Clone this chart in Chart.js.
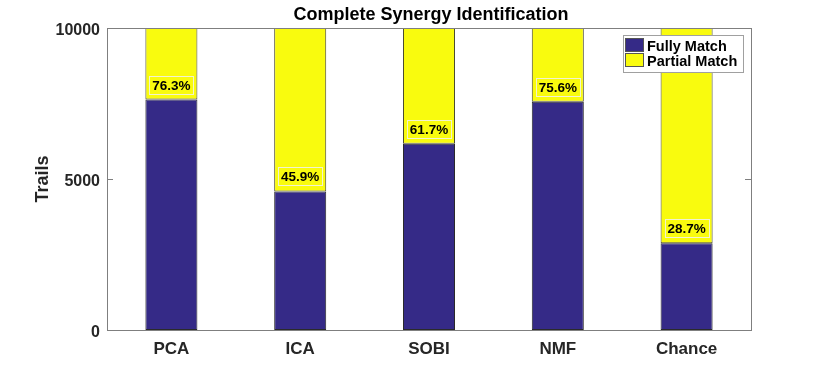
<!DOCTYPE html>
<html>
<head>
<meta charset="utf-8">
<script src="https://cdn.jsdelivr.net/npm/chart.js@4/dist/chart.umd.min.js"></script>
<style>
html,body{margin:0;padding:0;background:#fff;}
#wrap{width:830px;height:371px;position:relative;}
</style>
</head>
<body>
<div id="wrap"><canvas id="c" width="830" height="371"></canvas></div>
<script>
const categories = ["PCA", "ICA", "SOBI", "NMF", "Chance"];
const fullyMatch = [7630, 4590, 6170, 7560, 2870];
const partialMatch = [2370, 5410, 3830, 2440, 7130];
const percentLabels = ["76.3%", "45.9%", "61.7%", "75.6%", "28.7%"];
const yTicks = [0, 5000, 10000];
const seriesNames = ["Fully Match", "Partial Match"];
const chartTitle = "Complete Synergy Identification";
const yTitle = "Trails";

const BLUE = "#352a87";
const YELLOW = "#f9fb0e";
const TXT = "#262626";
const FONT = "'Liberation Sans', Arial, sans-serif";

const overlay = {
  id: "overlay",
  afterDraw(chart) {
    const ctx = chart.ctx;
    const a = chart.chartArea;
    const ys = chart.scales.y;
    ctx.save();
    // axes box
    ctx.strokeStyle = "#7f7f7f";
    ctx.lineWidth = 1;
    ctx.strokeRect(Math.round(a.left) + 0.5, Math.round(a.top) + 0.5, Math.round(a.right - a.left), Math.round(a.bottom - a.top));
    // inner tick marks
    yTicks.forEach(v => {
      const y = Math.round(ys.getPixelForValue(v)) + 0.5;
      ctx.beginPath();
      ctx.moveTo(a.left, y); ctx.lineTo(a.left + 6, y);
      ctx.moveTo(a.right, y); ctx.lineTo(a.right - 6, y);
      ctx.stroke();
    });
    // percentage labels
    const meta = chart.getDatasetMeta(0);
    ctx.font = "bold 13.5px " + FONT;
    ctx.textAlign = "center";
    ctx.textBaseline = "middle";
    meta.data.forEach((bar, i) => {
      const cx = bar.x;
      const top = bar.y;
      const w = 44, h = 18;
      const bx = Math.round(cx - w / 2) + 0.5;
      const by = Math.round(top - 6 - h) + 0.5;
      ctx.fillStyle = YELLOW;
      ctx.fillRect(bx, by, w, h);
      ctx.strokeStyle = "#f2f2d0";
      ctx.strokeRect(bx, by, w, h);
      ctx.fillStyle = "#000";
      ctx.fillText(percentLabels[i], cx, by + h / 2 + 1);
    });
    // legend
    const lx = 623.5, ly = 35.5, lw = 120, lh = 37;
    ctx.fillStyle = "#fff";
    ctx.fillRect(lx, ly, lw, lh);
    ctx.strokeStyle = "#a0a0a0";
    ctx.strokeRect(lx, ly, lw, lh);
    const cols = [BLUE, YELLOW];
    ctx.textAlign = "left";
    ctx.font = "bold 14.5px " + FONT;
    cols.forEach((c, i) => {
      const sy = 38.5 + i * 15;
      ctx.fillStyle = c;
      ctx.fillRect(625.5, sy, 18, 13);
      ctx.strokeStyle = "#555";
      ctx.strokeRect(625.5, sy, 18, 13);
      ctx.fillStyle = "#000";
      ctx.fillText(seriesNames[i], 647, sy + 8);
    });
    // title
    ctx.fillStyle = "#000";
    ctx.textAlign = "center";
    ctx.font = "bold 18px " + FONT;
    ctx.fillText(chartTitle, 431, 15);
    // y title
    ctx.translate(43, (a.top + a.bottom) / 2);
    ctx.rotate(-Math.PI / 2);
    ctx.fillStyle = TXT;
    ctx.font = "bold 18px " + FONT;
    ctx.fillText(yTitle, 0, 0);
    ctx.restore();
  }
};

new Chart(document.getElementById("c"), {
  type: "bar",
  data: {
    labels: categories,
    datasets: [
      { label: seriesNames[0], data: fullyMatch, backgroundColor: BLUE, borderColor: "#2a2a2a", borderWidth: 1, borderSkipped: false },
      { label: seriesNames[1], data: partialMatch, backgroundColor: YELLOW, borderColor: "#4a4a30", borderWidth: 1, borderSkipped: false }
    ]
  },
  options: {
    responsive: false,
    animation: false,
    events: [],
    layout: { padding: { left: 0, right: 79, top: 28, bottom: 0 } },
    datasets: { bar: { barPercentage: 0.404, categoryPercentage: 1 } },
    plugins: { legend: { display: false }, tooltip: { enabled: false }, title: { display: false } },
    scales: {
      x: {
        stacked: true,
        grid: { display: false, drawTicks: false },
        border: { display: false },
        ticks: { color: TXT, font: { family: FONT, size: 17, weight: "bold" }, padding: 9, maxRotation: 0 },
        afterFit(s) { s.height = 41; }
      },
      y: {
        stacked: true,
        min: 0, max: 10000,
        grid: { display: false, drawTicks: false },
        border: { display: false },
        afterBuildTicks(s) { s.ticks = yTicks.map(v => ({ value: v })); },
        ticks: { color: TXT, font: { family: FONT, size: 16, weight: "bold" }, padding: 7, labelOffset: 2.5, callback: v => String(v) },
        afterFit(s) { s.width = 107; }
      }
    }
  },
  plugins: [overlay]
});
</script>
</body>
</html>
